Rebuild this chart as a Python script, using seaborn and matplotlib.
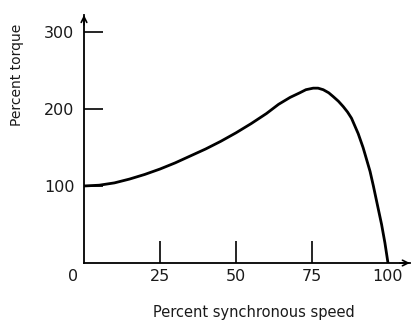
import matplotlib
matplotlib.use("Agg")
import matplotlib.pyplot as plt
import matplotlib.transforms as mtransforms
import seaborn as sns
import pandas as pd

speed = [0, 5, 10, 15, 20, 25, 30, 35, 40, 45, 50, 55, 60, 64, 67.8, 71, 73, 75.4, 77, 78.7, 80.5, 82,
         83.7, 85.3, 86.7, 88, 90.2, 91.8, 92.4, 94.1, 95.2, 96.6, 97.9, 99, 100]
torque = [100, 101, 104, 109, 115, 122, 130, 139, 148, 158, 169, 181, 194, 206, 215, 221, 225, 227, 227, 225, 221, 216,
          210, 203, 196, 188, 168, 150, 142, 119, 100, 74, 50, 26, 0]
x_ticks = [0, 25, 50, 75, 100]
x_labels = ["0", "25", "50", "75", "100"]
y_ticks = [100, 200, 300]
y_labels = ["100", "200", "300"]

df = pd.DataFrame({"speed": speed, "torque": torque})

sns.set_style("white")
plt.rcParams["font.family"] = ["DejaVu Sans"]

fig = plt.figure(figsize=(4.13, 3.21), dpi=100)
ax = fig.add_axes([0.2034, 0.1807, 0.789, 0.7726])
sns.lineplot(data=df, x="speed", y="torque", ax=ax, color="black", lw=2.0, sort=False)
ax.get_lines()[0].set_solid_joinstyle("round")

ax.set_xlim(0, 107.2)
ax.set_ylim(0, 322)
for s in ["top", "right"]:
    ax.spines[s].set_visible(False)
for s in ["left", "bottom"]:
    ax.spines[s].set_color("black")
    ax.spines[s].set_linewidth(1.3)

ax.set_xticks(x_ticks)
ax.set_xticklabels(x_labels, fontsize=11.5)
ax.set_yticks(y_ticks)
ax.set_yticklabels(y_labels, fontsize=11.5)
ax.tick_params(axis="x", bottom=True, direction="in", length=16, width=1.2, pad=4, colors="black")
ax.tick_params(axis="y", left=True, direction="in", length=14, width=1.2, pad=7, colors="black")
ax.tick_params(axis="both", labelcolor="#1a1a1a")
xt = ax.xaxis.get_major_ticks()
xt[0].tick1line.set_visible(False)
xt[-1].tick1line.set_visible(False)

# shift the origin label slightly left, as in the reference
lbl0 = ax.get_xticklabels()[0]
lbl0.set_transform(lbl0.get_transform() + mtransforms.ScaledTranslation(-11 / 100, 0, fig.dpi_scale_trans))

ax.set_xlabel("")
ax.set_ylabel("")
ax.text(0.52, -0.198, "Percent synchronous speed", transform=ax.transAxes,
        ha="center", va="center", fontsize=10.5, color="#1a1a1a")
ax.text(-0.205, 0.758, "Percent torque", transform=ax.transAxes, rotation=90,
        ha="center", va="center", fontsize=10, color="#1a1a1a")

# arrow heads on the axes
ax.annotate("", xy=(1.0, 0), xytext=(0.97, 0), xycoords="axes fraction",
            arrowprops=dict(arrowstyle="->", lw=1.2, color="black", shrinkA=0, shrinkB=0))
ax.annotate("", xy=(0, 1.0), xytext=(0, 0.96), xycoords="axes fraction",
            arrowprops=dict(arrowstyle="->", lw=1.2, color="black", shrinkA=0, shrinkB=0))

fig.savefig("out.png", dpi=100)
